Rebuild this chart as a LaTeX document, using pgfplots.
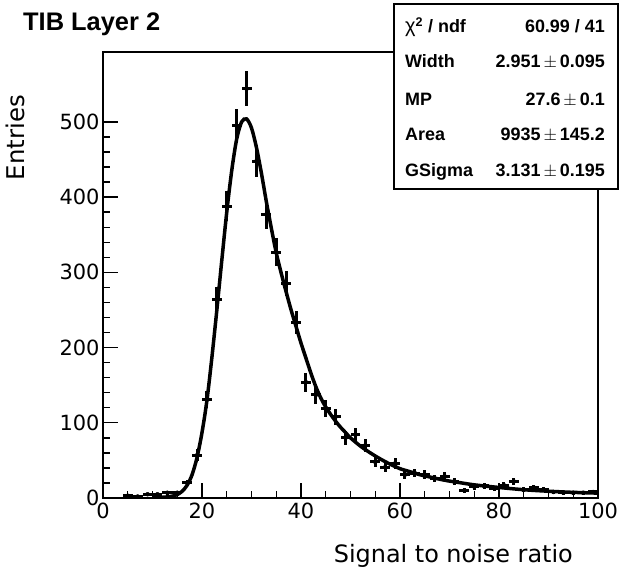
\documentclass[border=0pt]{standalone}
\usepackage{pgfplots}
\pgfplotsset{compat=1.18}
\usepackage{fontspec}
\setmainfont{Liberation Sans}
\newfontfamily\dejavu{DejaVu Sans}

\begin{document}
\begin{tikzpicture}
\begin{axis}[
    at={(0,0)}, anchor=south west,
    width=495bp, height=446bp, scale only axis,
    xmin=0, xmax=100, ymin=0, ymax=593,
    xtick={0,20,...,100}, minor x tick num=3,
    ytick={0,100,...,500}, minor y tick num=4,
    tick align=inside, tick pos=left,
    major tick length=15bp, minor tick length=7.5bp,
    every tick/.style={black, line width=1.4bp},
    axis line style={line width=1.6bp},
    /pgf/number format/assume math mode=true,
    tick label style={font=\dejavu\fontsize{21}{24}\selectfont},
    xticklabel style={yshift=-1bp},
    ]
% histogram: bin centre, entries, half bin width, sqrt(entries)
\addplot[only marks, mark=none,
    error bars/.cd, x dir=both, x explicit, y dir=both, y explicit,
    error mark=none, error bar style={line width=3bp, black}]
    table[x=x, y=y, x error=ex, y error=ey] {
x   y    ex  ey
5   3    1   1.7
7   2    1   1.4
9   5    1   2.2
11  5    1   2.2
13  7    1   2.6
15  7    1   2.6
17  20   1   4.5
19  57   1   7.5
21  131  1   11.4
23  264  1   16.2
25  388  1   19.7
27  495  1   22.2
29  544  1   23.3
31  448  1   21.2
33  377  1   19.4
35  327  1   18.1
37  285  1   16.9
39  233  1   15.3
41  154  1   12.4
43  137  1   11.7
45  119  1   10.9
47  108  1   10.4
49  80   1   8.9
51  84   1   9.2
53  70   1   8.4
55  48   1   6.9
57  41   1   6.4
59  46   1   6.8
61  31   1   5.6
63  33   1   5.7
65  31   1   5.6
67  26   1   5.1
69  29   1   5.4
71  22   1   4.7
73  10   1   3.2
75  15   1   3.9
77  16   1   4.0
79  13   1   3.6
81  17   1   4.1
83  22   1   4.7
85  11   1   3.3
87  14   1   3.7
89  11   1   3.3
91  8    1   2.8
93  7    1   2.6
95  7    1   2.6
97  7    1   2.6
99  8    1   2.8
};
% Landau (x) Gauss fit
\addplot[black, line width=3.5bp, smooth, mark=none] coordinates {
(10,0.5)(12,1)(13,1.5)(14,2.5)(15,4.5)(16,9)(17,17)(18,31)(19,54)
(20,87)(21,130)(22,187)(23,250)(24,316)(25,380)(26,435)(27,477)
(28,500)(29,504)(30,492)(31,466)(32,432)(33,394)(34,359)(35,326)
(36,299)(37,274)(38,250)(39,228)(40,206)(41,186)(42,166)(43,148)
(44,133)(45,121)(46,111)(47,102)(48,94)(49,87)(50,80)(52,69)
(54,60)(56,52)(58,45)(60,39)(62,35)(64,31)(66,28)(68,25)(70,22.5)
(72,20.5)(75,17.5)(80,14)(85,11)(90,9)(95,7.5)(100,6.5)
};
\end{axis}
% title
\node[anchor=base west, inner sep=0pt, font=\bfseries\fontsize{25.5}{30}\selectfont]
    at (-80bp,467bp) {TIB Layer 2};
% axis titles
\node[anchor=base east, inner sep=0pt, font=\dejavu\fontsize{24}{28}\selectfont]
    at (470bp,-64bp) {Signal to noise ratio};
\node[rotate=90, anchor=base east, inner sep=0pt, font=\dejavu\fontsize{24.5}{28}\selectfont]
    at (-78bp,403bp) {Entries};
% fit statistics box
\draw[line width=1.5bp, fill=white] (291bp,309bp) rectangle (515bp,494bp);
\begin{scope}[every node/.style={inner sep=0pt, font=\bfseries\fontsize{18}{21}\selectfont}]
\node[anchor=base west] at (302bp,465bp) {{\mdseries\fontsize{20}{22}\selectfont χ}\textsuperscript{2} / ndf};
\node[anchor=base east] at (502bp,465bp) {60.99 / 41};
\node[anchor=base west] at (302bp,430bp) {Width};
\node[anchor=base east] at (502bp,430bp) {2.951\,$\pm$\,0.095};
\node[anchor=base west] at (302bp,392bp) {MP};
\node[anchor=base east] at (502bp,392bp) {27.6\,$\pm$\,0.1};
\node[anchor=base west] at (302bp,357bp) {Area};
\node[anchor=base east] at (502bp,357bp) {9935\,$\pm$\,145.2};
\node[anchor=base west] at (302bp,321bp) {GSigma};
\node[anchor=base east] at (502bp,321bp) {3.131\,$\pm$\,0.195};
\end{scope}
\pgfresetboundingbox
\path[use as bounding box] (-103bp,-73bp) rectangle (517bp,498bp);
\end{tikzpicture}
\end{document}
